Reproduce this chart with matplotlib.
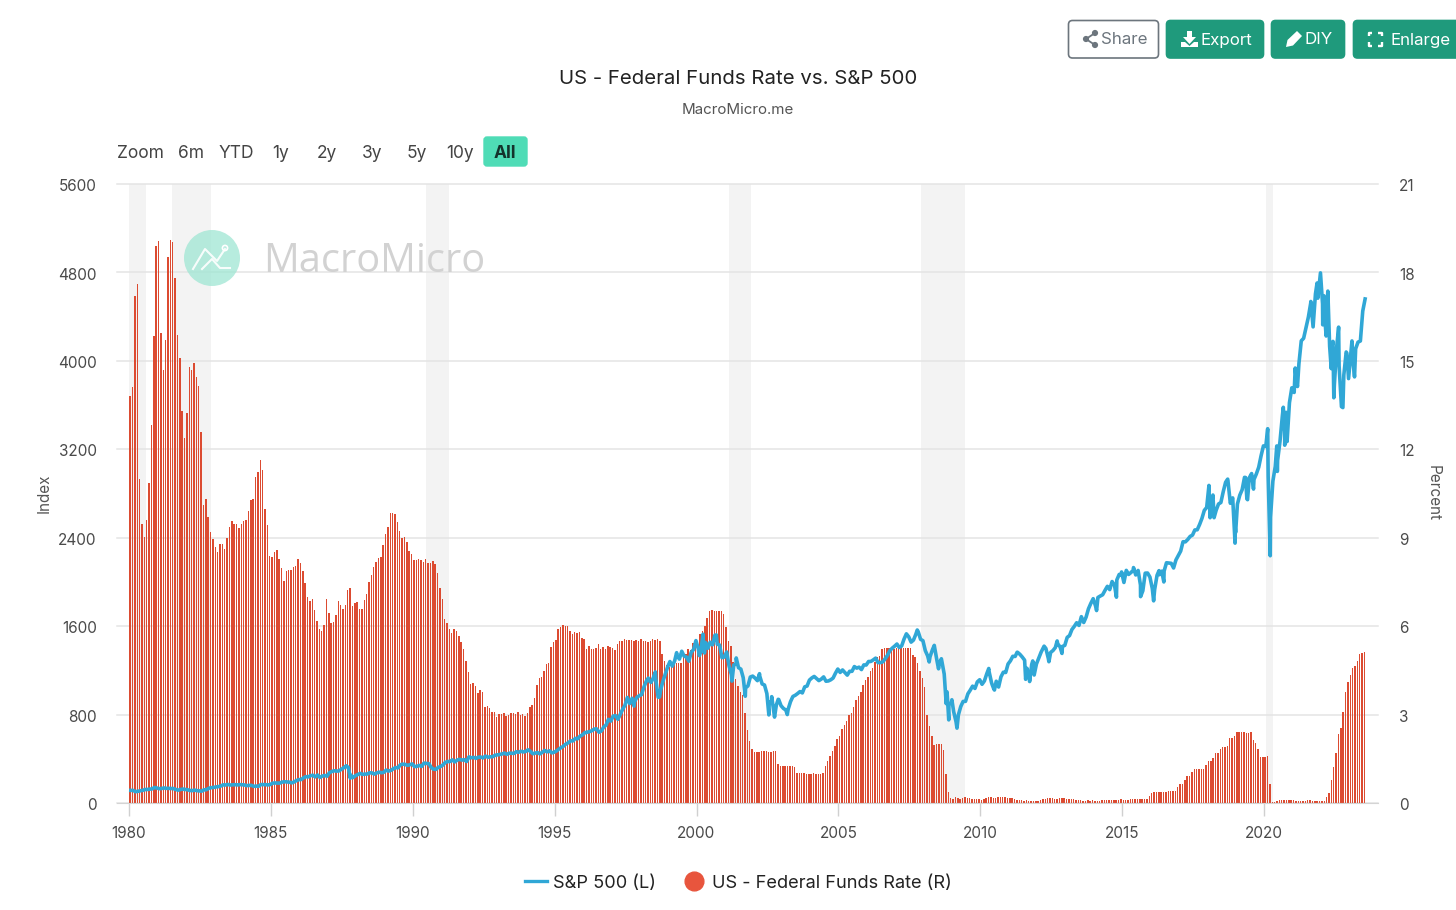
import matplotlib
matplotlib.use("Agg")
import matplotlib.pyplot as plt
import numpy as np
from matplotlib.lines import Line2D
from matplotlib.patches import FancyBboxPatch, Circle, Polygon
from matplotlib.transforms import ScaledTranslation

plt.rcParams['font.family'] = ['Inter', 'DejaVu Sans']

START_YEAR = 1980
fed_funds = [
 13.82,14.13,17.19,17.61,10.98,9.47,9.03,9.61,10.87,12.81,15.85,18.90,
 19.08,15.93,14.70,15.72,18.52,19.10,19.04,17.82,15.87,15.08,13.31,12.37,
 13.22,14.78,14.68,14.94,14.45,14.15,12.59,10.12,10.31,9.71,9.20,8.95,
 8.68,8.51,8.77,8.80,8.63,8.98,9.37,9.56,9.45,9.48,9.34,9.47,
 9.56,9.59,9.91,10.29,10.32,11.06,11.23,11.64,11.30,9.99,9.43,8.38,
 8.35,8.50,8.58,8.27,7.97,7.53,7.88,7.90,7.92,7.99,8.05,8.27,
 8.14,7.86,7.48,6.99,6.85,6.92,6.56,6.17,5.89,5.85,6.04,6.91,
 6.43,6.10,6.13,6.37,6.85,6.73,6.58,6.73,7.22,7.29,6.69,6.77,
 6.83,6.58,6.58,6.87,7.09,7.51,7.75,8.01,8.19,8.30,8.35,8.76,
 9.12,9.36,9.85,9.84,9.81,9.53,9.24,8.99,9.02,8.84,8.55,8.45,
 8.23,8.24,8.28,8.26,8.18,8.29,8.15,8.13,8.20,8.11,7.81,7.31,
 6.91,6.25,6.12,5.91,5.78,5.90,5.82,5.66,5.45,5.21,4.81,4.43,
 4.03,4.06,3.98,3.73,3.82,3.76,3.25,3.30,3.22,3.10,3.09,2.92,
 3.02,3.03,3.07,2.96,3.00,3.04,3.06,3.03,3.09,2.99,3.02,2.96,
 3.05,3.25,3.34,3.56,4.01,4.25,4.26,4.47,4.73,4.76,5.29,5.45,
 5.53,5.92,5.98,6.05,6.01,6.00,5.85,5.74,5.80,5.76,5.80,5.60,
 5.56,5.22,5.31,5.22,5.24,5.27,5.40,5.22,5.30,5.24,5.31,5.29,
 5.25,5.19,5.39,5.51,5.50,5.56,5.52,5.54,5.54,5.50,5.52,5.50,
 5.56,5.51,5.49,5.45,5.49,5.56,5.54,5.55,5.51,5.07,4.83,4.68,
 4.63,4.76,4.81,4.74,4.74,4.76,4.99,5.07,5.22,5.20,5.42,5.30,
 5.45,5.73,5.85,6.02,6.27,6.53,6.54,6.50,6.52,6.51,6.51,6.40,
 5.98,5.49,5.31,4.80,4.21,3.97,3.77,3.65,3.07,2.49,2.09,1.82,
 1.73,1.74,1.73,1.75,1.75,1.75,1.73,1.74,1.75,1.75,1.34,1.24,
 1.24,1.26,1.25,1.26,1.26,1.22,1.01,1.03,1.01,1.01,1.00,0.98,
 1.00,1.01,1.00,1.00,1.00,1.03,1.26,1.43,1.61,1.76,1.93,2.16,
 2.28,2.50,2.63,2.79,3.00,3.04,3.26,3.50,3.62,3.78,4.00,4.16,
 4.29,4.49,4.59,4.79,4.94,4.99,5.24,5.25,5.25,5.25,5.25,5.24,
 5.25,5.26,5.26,5.25,5.25,5.25,5.26,5.02,4.94,4.76,4.49,4.24,
 3.94,2.98,2.61,2.28,1.98,2.00,2.01,2.00,1.81,0.97,0.39,0.16,
 .15,.22,.18,.15,.18,.21,.16,.16,.15,.12,.12,.12,
 .11,.13,.16,.20,.20,.18,.18,.19,.19,.19,.19,.18,
 .17,.16,.14,.10,.09,.09,.07,.10,.08,.07,.08,.07,
 .08,.10,.13,.14,.16,.16,.16,.13,.14,.16,.16,.16,
 .14,.15,.14,.15,.11,.09,.09,.08,.08,.09,.08,.09,
 .07,.07,.08,.09,.09,.10,.09,.09,.09,.09,.09,.12,
 .11,.11,.11,.12,.12,.13,.13,.14,.14,.12,.12,.24,
 .34,.38,.36,.37,.37,.38,.39,.40,.40,.40,.41,.54,
 .65,.66,.79,.90,.91,1.04,1.15,1.16,1.15,1.15,1.16,1.30,
 1.41,1.42,1.51,1.69,1.70,1.82,1.91,1.91,1.95,2.19,2.20,2.27,
 2.40,2.40,2.41,2.42,2.39,2.38,2.40,2.13,2.04,1.83,1.55,1.55,
 1.55,1.58,.65,.05,.05,.08,.09,.10,.09,.09,.09,.09,
 .09,.08,.07,.07,.06,.08,.10,.09,.08,.08,.08,.08,
 .08,.08,.20,.33,.77,1.21,1.68,2.33,2.56,3.08,3.78,4.10,
 4.33,4.57,4.65,4.83,5.06,5.08,5.12,
]
sp500_monthly = [
 114.16,113.66,102.09,106.29,111.24,114.24,121.67,122.38,125.46,127.47,140.52,135.76,
 129.55,131.27,136.00,132.81,132.59,131.21,130.92,122.79,116.18,121.89,126.35,122.55,
 120.40,113.11,111.96,116.44,111.88,109.61,107.09,119.51,120.42,133.71,138.54,140.64,
 145.30,148.06,152.96,164.42,162.39,168.11,162.56,164.40,166.07,163.55,166.40,164.93,
 163.41,157.06,159.18,160.05,150.55,153.18,150.66,166.68,166.10,166.09,163.58,167.24,
 179.63,181.18,180.66,179.83,189.55,191.85,190.92,188.63,182.08,189.82,202.17,211.28,
 211.78,226.92,238.90,235.52,247.35,250.84,236.12,252.93,231.32,243.98,249.22,242.17,
 274.08,284.20,291.70,288.36,290.10,304.00,318.66,329.80,321.83,251.79,230.30,247.08,
 257.07,267.82,258.89,261.33,262.16,273.50,272.02,261.52,271.91,278.97,273.70,277.72,
 297.47,288.86,294.87,309.64,320.52,317.98,346.08,351.45,349.15,340.36,345.99,353.40,
 329.08,331.89,339.94,330.80,361.23,358.02,356.15,322.56,306.05,304.00,322.22,330.22,
 343.93,367.07,375.22,375.34,389.83,371.16,387.81,395.43,387.86,392.45,375.22,417.09,
 408.79,412.70,403.69,414.95,415.35,408.14,424.22,414.03,417.80,418.68,431.35,435.71,
 438.78,443.38,451.67,440.19,450.19,450.53,448.13,463.56,458.93,467.83,461.79,466.45,
 481.61,467.14,445.77,450.91,456.50,444.27,458.26,475.49,462.69,472.35,453.69,459.27,
 470.42,487.39,500.71,514.71,533.40,544.75,562.06,561.88,584.41,581.50,605.37,615.93,
 636.02,640.43,645.50,654.17,669.12,670.63,639.95,651.99,687.33,705.27,757.02,740.74,
 786.16,790.82,757.12,801.34,848.28,885.14,954.29,899.47,947.28,914.62,955.40,970.43,
 980.28,1049.34,1101.75,1111.75,1090.82,1133.84,1120.67,957.28,1017.01,1098.67,1163.63,1229.23,
 1279.64,1238.33,1286.37,1335.18,1301.84,1372.71,1328.72,1320.41,1282.71,1362.93,1388.91,1469.25,
 1394.46,1366.42,1498.58,1452.43,1420.60,1454.60,1430.83,1517.68,1436.51,1429.40,1314.95,1320.28,
 1366.01,1239.94,1160.33,1249.46,1255.82,1224.38,1211.23,1133.58,1040.94,1059.78,1139.45,1148.08,
 1130.20,1106.73,1147.39,1076.92,1067.14,989.82,911.62,916.07,815.28,885.76,936.31,879.82,
 855.70,841.15,848.18,916.92,963.59,974.50,990.31,1008.01,995.97,1050.71,1058.20,1111.92,
 1131.13,1144.94,1126.21,1107.30,1120.68,1140.84,1101.72,1104.24,1114.58,1130.20,1173.82,1211.92,
 1181.27,1203.60,1180.59,1156.85,1191.50,1191.33,1234.18,1220.33,1228.81,1207.01,1249.48,1248.29,
 1280.08,1280.66,1294.87,1310.61,1270.09,1270.20,1276.66,1303.82,1335.85,1377.94,1400.63,1418.30,
 1438.24,1406.82,1420.86,1482.37,1530.62,1503.35,1455.27,1473.99,1526.75,1549.38,1481.14,1468.36,
 1378.55,1330.63,1322.70,1385.59,1400.38,1280.00,1267.38,1282.83,1166.36,968.75,896.24,903.25,
 825.88,735.09,797.87,872.81,919.14,919.32,987.48,1020.62,1057.08,1036.19,1095.63,1115.10,
 1073.87,1104.49,1169.43,1186.69,1089.41,1030.71,1101.60,1049.33,1141.20,1183.26,1180.55,1257.64,
 1286.12,1327.22,1325.83,1363.61,1345.20,1320.64,1292.28,1218.89,1131.42,1253.30,1246.96,1257.60,
 1312.41,1365.68,1408.47,1397.91,1310.33,1362.16,1379.32,1406.58,1440.67,1412.16,1416.18,1426.19,
 1498.11,1514.68,1569.19,1597.57,1630.74,1606.28,1685.73,1632.97,1681.55,1756.54,1805.81,1848.36,
 1782.59,1859.45,1872.34,1883.95,1923.57,1960.23,1930.67,2003.37,1972.29,2018.05,2067.56,2058.90,
 1994.99,2104.50,2067.89,2085.51,2107.39,2063.11,2103.84,1972.18,1920.03,2079.36,2080.41,2043.94,
 1940.24,1932.23,2059.74,2065.30,2096.95,2098.86,2173.60,2170.95,2168.27,2126.15,2198.81,2238.83,
 2278.87,2363.64,2362.72,2384.20,2411.80,2423.41,2470.30,2471.65,2519.36,2575.26,2647.58,2673.61,
 2823.81,2713.83,2640.87,2648.05,2705.27,2718.37,2816.29,2901.52,2913.98,2711.74,2760.17,2506.85,
 2704.10,2784.49,2834.40,2945.83,2752.06,2941.76,2980.38,2926.46,2976.74,3037.56,3140.98,3230.78,
 3225.52,2954.22,2584.59,2912.43,3044.31,3100.29,3271.12,3500.31,3363.00,3269.96,3621.63,3756.07,
 3714.24,3811.15,3972.89,4181.17,4204.11,4297.50,4395.26,4522.68,4307.54,4605.38,4567.00,4766.18,
 4515.55,4373.94,4530.41,4131.93,4132.15,3785.38,4130.29,3955.00,3585.62,3871.98,4080.11,3839.50,
 4076.60,3970.15,4109.31,4169.48,4179.83,4450.38,4560.00,
]
# intra-month swing points
sp500_extra_dates = [1987.65,1987.80,1997.80,1998.30,1998.55,1998.70,1999.30,2000.10,2000.23,2000.28,2000.40,2000.70,
                     2001.25,2001.40,2001.72,2002.22,2002.55,2002.65,2002.75,2002.88,2003.20,
                     2007.78,2008.20,2008.38,2008.53,2008.63,2008.80,2008.83,2008.89,2009.00,2009.18,
                     2010.30,2010.42,2010.50,2011.30,2011.60,2011.74,2011.85,2011.90,
                     2012.25,2012.42,2012.71,2012.88,2014.10,2014.80,2014.98,
                     2015.40,2015.65,2016.11,2016.30,2016.47,
                     2018.06,2018.10,2018.20,2018.24,2018.72,2018.98,2019.00,
                     2019.35,2019.42,2019.63,2020.13,2020.22,2020.45,2020.47,
                     2020.68,2020.73,2020.78,2021.10,2021.18,2021.65,2021.87,2021.99,
                     2022.07,2022.11,2022.19,2022.25,2022.37,2022.43,2022.46,2022.63,2022.78,2022.92,
                     2023.10,2023.19]
sp500_extra_vals = [337,224,876,1130,1186,959,1360,1333,1527,1357,1400,1520,
                    1103,1312,966,1170,797,962,777,938,800,
                    1565,1276,1426,1214,1305,899,1005,752,934,677,
                    1217,1071,1022,1364,1119,1099,1285,1158,
                    1419,1278,1466,1353,1741,1862,2090,
                    2130,1867,1829,2102,2000,
                    2873,2581,2786,2581,2930,2351,2447,
                    2945,2744,2840,3386,2237,3230,3000,
                    3580,3237,3534,3935,3768,4537,4704,4796,
                    4326,4589,4225,4631,3930,4176,3666,4305,3577,4070,
                    4180,3855]

recession_start = [1980.0, 1981.5, 1990.47, 2001.13, 2007.9, 2020.08]
recession_end = [1980.6, 1982.9, 1991.27, 2001.92, 2009.48, 2020.32]
left_ticks = [0, 800, 1600, 2400, 3200, 4000, 4800, 5600]
right_ticks = [0, 3, 6, 9, 12, 15, 18, 21]
x_ticks = [1980, 1985, 1990, 1995, 2000, 2005, 2010, 2015, 2020]
range_labels = ["Zoom", "6m", "YTD", "1y", "2y", "3y", "5y", "10y"]
range_centers = [140, 191, 236, 281, 327, 372, 417, 460]

W, H = 1456, 910
fig = plt.figure(figsize=(W/100, H/100), dpi=100, facecolor='white')
L, R, T, B = 117, 1378, 184, 803
pos = [L/W, 1-B/H, (R-L)/W, (B-T)/H]

ax2 = fig.add_axes(pos, zorder=1)   # right axis: bars, bands, grid
ax = fig.add_axes(pos, zorder=2)    # left axis: line
ax.patch.set_visible(False)

PX_PER_YEAR = 28.375
xmin = 1980 - (129-L)/PX_PER_YEAR
xmax = 1980 + (R-129)/PX_PER_YEAR

BAR_COLOR = '#dc4b31'
LINE_COLOR = '#30a7d6'
TICK_COLOR = '#4a4a4a'
fed = np.array(fed_funds)
x_bar = START_YEAR + (np.arange(len(fed)) + 0.5)/12
for s, e in zip(recession_start, recession_end):
    ax2.axvspan(s, e, color='#f3f3f3', lw=0, zorder=0)
ax2.bar(x_bar, fed, width=0.62/12, color=BAR_COLOR, lw=0, zorder=3)
ax2.set_ylim(0, 21); ax2.set_xlim(xmin, xmax)
ax2.set_yticks(right_ticks)
ax2.yaxis.tick_right()
ax2.yaxis.set_label_position('right')
ax2.grid(axis='y', color='#e4e4e4', lw=1.1, zorder=1)
ax2.set_axisbelow(True)
ax2.tick_params(axis='y', length=0, pad=15, labelsize=11, labelcolor=TICK_COLOR)
ax2.set_xticks([])
for gl in ax2.get_ygridlines():
    gl.set_clip_on(False)

sp_m = np.array(sp500_monthly)
x_m = START_YEAR + (np.arange(len(sp_m)) + 1)/12 - 0.02
x_all = np.concatenate([x_m, sp500_extra_dates])
y_all = np.concatenate([sp_m, sp500_extra_vals])
o = np.argsort(x_all)
ax.plot(x_all[o], y_all[o], color=LINE_COLOR, lw=2.6, solid_joinstyle='round', zorder=4)
ax.set_ylim(0, 5600); ax.set_xlim(xmin, xmax)
ax.set_yticks(left_ticks)
ax.set_xticks(x_ticks)
ax.set_xticklabels([str(v) for v in x_ticks])
ax.tick_params(axis='y', length=0, pad=14.5, labelsize=11, labelcolor=TICK_COLOR)
ax.tick_params(axis='x', length=9, width=1, color='#d0d0d0', pad=7.5, labelsize=11, labelcolor=TICK_COLOR)
for a in (ax, ax2):
    for sp in a.spines.values():
        sp.set_visible(False)
ax.spines['bottom'].set_visible(True)
ax.spines['bottom'].set_color('#d4d4d4')
# the value labels sit just under their gridlines
down = ScaledTranslation(0, -1.1/100, fig.dpi_scale_trans)
for lbl in list(ax.get_yticklabels()) + list(ax2.get_yticklabels()):
    lbl.set_transform(lbl.get_transform() + down)

# Pixel-coordinate overlay for page furniture
ui = fig.add_axes([0, 0, 1, 1], zorder=5)
ui.set_xlim(0, W); ui.set_ylim(H, 0); ui.axis('off')

ui.text(738, 79, "US - Federal Funds Rate vs. S&P 500", ha='center', va='center', fontsize=14.7, color='#222222')
ui.text(738, 110, "MacroMicro.me", ha='center', va='center', fontsize=10.9, color='#555555')
ui.text(44, 493, "Index", rotation=90, ha='center', va='center', fontsize=11, color='#555555')
ui.text(1433, 493, "Percent", rotation=270, ha='center', va='center', fontsize=11, color='#555555')

# range selector
for lab, c in zip(range_labels, range_centers):
    ui.text(c, 153, lab, ha='center', va='center', fontsize=12.5, color='#444444')
ui.add_patch(FancyBboxPatch((484, 137), 43, 29, boxstyle='round,pad=0,rounding_size=3', fc='#4fdcb6', ec='#4fdcb6', lw=1))
ui.text(505, 153, "All", ha='center', va='center', fontsize=12.5, fontweight='bold', color='#14332c')

# buttons
GREEN = '#1f9a7c'
def btn(x0, x1, fc, ec):
    ui.add_patch(FancyBboxPatch((x0+.5, 20.5), x1-x0-1, 37.5, boxstyle='round,pad=0,rounding_size=4',
                                fc=fc, ec=ec, lw=1.2, clip_on=False))
btn(1068, 1159, 'white', '#6c757d')
btn(1166, 1264, GREEN, GREEN)
btn(1271, 1345, GREEN, GREEN)
btn(1353, 1470, GREEN, GREEN)
ui.text(1101, 40, "Share", va='center', fontsize=12.2, color='#6c757d')
ui.text(1200, 40, "Export", va='center', fontsize=12.2, color='white')
ui.text(1304, 40, "DIY", va='center', fontsize=12.2, color='white')
ui.text(1390, 40, "Enlarge", va='center', fontsize=12.2, color='white')
# share icon
for cx, cy in [(1086, 39), (1095, 33), (1095, 45)]:
    ui.add_patch(Circle((cx, cy), 3.1, fc='#6c757d', ec='none'))
ui.plot([1095, 1086, 1095], [33, 39, 45], color='#6c757d', lw=1.3)
# export icon
ui.add_patch(Polygon([(1187, 31), (1192, 31), (1192, 37), (1196, 37), (1189.5, 44), (1183, 37), (1187, 37)], fc='white', ec='none'))
ui.add_patch(Polygon([(1181, 42), (1185, 42), (1189.5, 46), (1194, 42), (1198, 42), (1198, 47), (1181, 47)], fc='white', ec='none'))
# pencil icon
ui.add_patch(Polygon([(1286, 47), (1287.5, 40), (1297, 31), (1302, 36), (1293, 45.5)], fc='white', ec='none'))
# enlarge icon
for sx, sy in [(-1, -1), (1, -1), (-1, 1), (1, 1)]:
    cx, cy = 1375 + sx*6.5, 39 + sy*6.5
    ui.plot([cx, cx, cx - sx*3.5], [cy - sy*3.5, cy, cy], color='white', lw=1.7, solid_capstyle='butt')

# watermark
ui.add_patch(Circle((212, 258), 28, fc='#9fe6d3', ec='none', alpha=0.75))
ui.plot([193, 205, 217, 225], [269, 249, 261, 249], color='white', lw=1.5, alpha=.9)
ui.plot([202, 212, 220, 230], [269, 259, 268, 268], color='white', lw=1.5, alpha=.9)
ui.add_patch(Circle((225, 248), 2.6, fc='none', ec='white', lw=1.2))
ui.text(263, 262, "MacroMicro", va='center', ha='left', fontsize=28.6, family=['Open Sans', 'DejaVu Sans'], color='#d2d2d2')

# legend
handles = [Line2D([], [], color=LINE_COLOR, lw=2.4),
           Line2D([], [], marker='o', ms=13.5, color='#e8553d', lw=0)]
leg = fig.legend(handles, ["S&P 500 (L)", "US - Federal Funds Rate (R)"], ncol=2, frameon=False,
                 loc='center', bbox_to_anchor=(738/W, 1-883/H), fontsize=13.1, handlelength=1.2,
                 handletextpad=0.38, columnspacing=1.45, labelcolor='#222222')

fig.savefig('out.png', dpi=100, facecolor='white')
